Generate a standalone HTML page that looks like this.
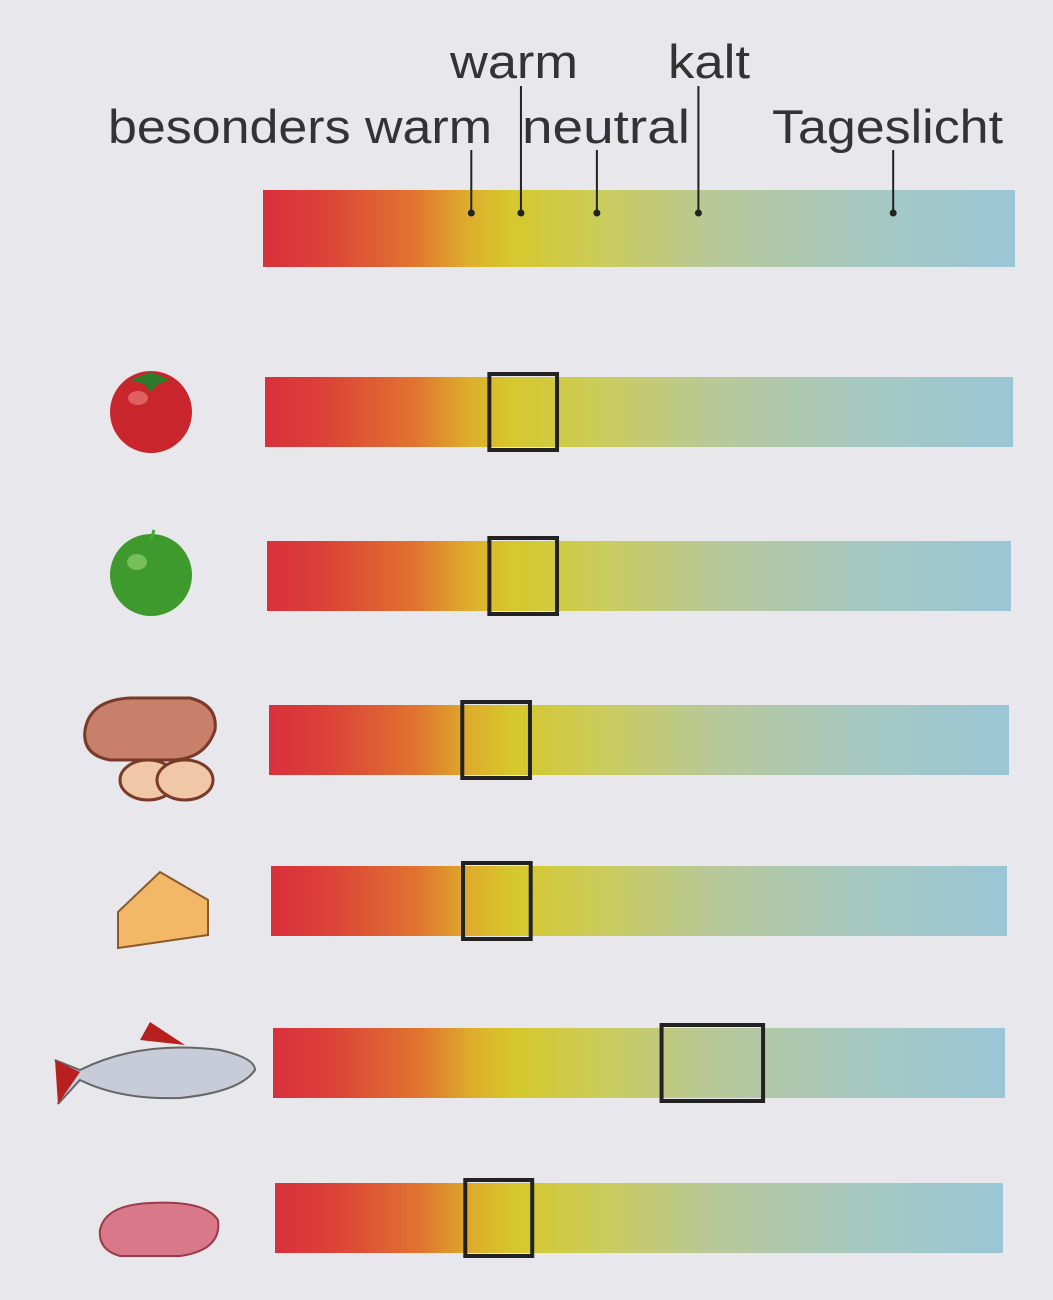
<!DOCTYPE html>
<html><head><meta charset="utf-8">
<style>
html,body{margin:0;padding:0;}
body{width:1053px;height:1300px;background:#e8e7eb;position:relative;overflow:hidden;font-family:"Liberation Sans",sans-serif;}
svg{position:absolute;left:0;top:0;}
</style></head>
<body>
<svg id="chart" width="1053" height="1300" viewBox="0 0 1053 1300">
<defs>
<linearGradient id="spec" x1="0" x2="1" y1="0" y2="0">
<stop offset="0" stop-color="#d8303c"/>
<stop offset="0.08" stop-color="#dc4238"/>
<stop offset="0.2" stop-color="#e07430"/>
<stop offset="0.27" stop-color="#deac2c"/>
<stop offset="0.33" stop-color="#d6c82c"/>
<stop offset="0.45" stop-color="#cacc5c"/>
<stop offset="0.6" stop-color="#b8c898"/>
<stop offset="0.8" stop-color="#a6c8c0"/>
<stop offset="1" stop-color="#9ac6d6"/>
</linearGradient>
</defs>
<g id="icons">
<g><circle cx="151" cy="412" r="41" fill="#c9252c"/><ellipse cx="138" cy="398" rx="10" ry="7" fill="#e8777a" opacity="0.7"/><path d="M130 380 L151 372 L170 380 L158 384 L151 392 L144 384Z" fill="#2f7a2a"/></g>
<g><circle cx="151" cy="575" r="41" fill="#3e9a2c"/><ellipse cx="137" cy="562" rx="10" ry="8" fill="#8fd06a" opacity="0.7"/><path d="M151 540 L154 530" stroke="#4a3" stroke-width="3"/></g>
<g><path d="M85 730 Q90 700 130 698 L190 698 Q218 705 215 730 Q205 760 170 760 L110 760 Q82 755 85 730Z" fill="#c9806a" stroke="#7a3a2a" stroke-width="3"/><ellipse cx="148" cy="780" rx="28" ry="20" fill="#f0c8a8" stroke="#7a3a2a" stroke-width="3"/><ellipse cx="185" cy="780" rx="28" ry="20" fill="#f0c8a8" stroke="#7a3a2a" stroke-width="3"/></g>
<g><path d="M118 912 L160 872 L208 900 L208 935 L118 948Z" fill="#f2b868" stroke="#8a5a2a" stroke-width="2"/></g>
<g><path d="M55 1060 L80 1070 Q140 1040 220 1050 Q255 1058 255 1070 Q240 1092 180 1098 Q120 1100 80 1080 L58 1104 L70 1075Z" fill="#c8ccd8" stroke="#666" stroke-width="2"/><path d="M140 1040 L150 1022 L185 1045Z" fill="#b82020"/><path d="M55 1060 L80 1072 L58 1104Z" fill="#b82020"/></g>
<g><path d="M100 1230 Q105 1205 150 1203 Q205 1200 218 1220 Q222 1250 180 1256 L120 1256 Q98 1250 100 1230Z" fill="#d87888" stroke="#9a3a4a" stroke-width="2"/></g>
</g>
<g id="topscale"></g>
<g id="rows"></g>
</svg>
<script>
// scale 0..100 along the spectrum bar
const topLabels = ["besonders warm","warm","neutral","kalt","Tageslicht"];
const topTickValues = [27.7, 34.3, 44.4, 57.9, 83.8];
const foods = ["tomato","apple","bread","cheese","fish","meat"];
const boxStart = [30.1, 30.1, 26.5, 26.6, 53.0, 26.9];
const boxEnd = [39.1, 39.1, 35.5, 35.6, 66.5, 35.8];

const X0 = 263, X1 = 1015;
function xs(v){ return X0 + (X1 - X0) * v / 100; }
const NS = "http://www.w3.org/2000/svg";
function mk(tag, attrs, parent){ const e = document.createElementNS(NS, tag); for (const k in attrs) e.setAttribute(k, attrs[k]); parent.appendChild(e); return e; }

const topG = document.getElementById('topscale');
const tb = mk('rect', {x:X0, y:190, width:X1-X0, height:77, fill:'url(#spec)'}, topG);


const labelPos = [{x:108,w:384,y:143,lt:150},{x:450,w:128,y:78,lt:86},{x:522,w:168,y:143,lt:150},{x:668,w:82,y:78,lt:86},{x:772,w:231,y:143,lt:150}];
topLabels.forEach((t,i)=>{
  const tx = xs(topTickValues[i]);
  const p = labelPos[i];
  const txt = mk('text', {x:p.x, y:p.y, textLength:p.w, lengthAdjust:'spacingAndGlyphs', 'font-size':47, fill:'#333'}, topG);
  txt.textContent = t;
  
  
  const ln = mk('line', {x1:tx, x2:tx, y1:p.lt, y2:213, stroke:'#222', 'stroke-width':2}, topG);
  
  
  const d = mk('circle', {cx:tx, cy:213, r:3.5, fill:'#222'}, topG);
  
  
});

const rows = document.getElementById('rows');
const rowY = [377, 541, 705, 866, 1028, 1183];
foods.forEach((f,i)=>{
  const y = rowY[i];
  const g = mk('g', {}, rows);
  
  
  const r = mk('rect', {x:X0 + 2 + i*2, y:y, width:X1 - X0 - 2 - i*4 - 2, height:70, fill:'url(#spec)'}, g);
  
  
  const bx = xs(boxStart[i]), bw = xs(boxEnd[i]) - bx;
  const b = mk('rect', {x:bx, y:y-3, width:bw, height:76, fill:'none', stroke:'#222', 'stroke-width':4}, g);
  
  
});
</script>
</body></html>
